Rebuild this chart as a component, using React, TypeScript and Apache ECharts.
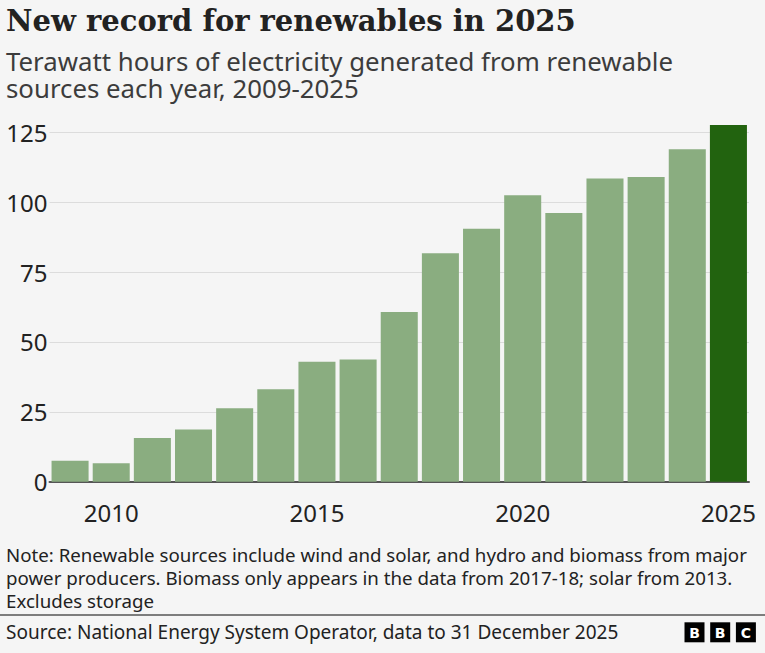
import React, { useEffect, useRef } from "react";
import * as echarts from "echarts";

const years = ["2009","2010","2011","2012","2013","2014","2015","2016","2017","2018","2019","2020","2021","2022","2023","2024","2025"];
const twh = [7.5, 6.6, 15.6, 18.7, 26.3, 33.1, 42.9, 43.7, 60.7, 81.7, 90.5, 102.5, 96.1, 108.5, 109.0, 118.9, 127.6];
const highlightYear = "2025";
const yTicks = { min: 0, max: 125, interval: 25 };

const titleText = "New record for renewables in 2025";
const subtitleLines = [
  "Terawatt hours of electricity generated from renewable",
  "sources each year, 2009-2025",
];
const noteLines = [
  "Note: Renewable sources include wind and solar, and hydro and biomass from major",
  "power producers. Biomass only appears in the data from 2017-18; solar from 2013.",
  "Excludes storage",
];
const sourceText = "Source: National Energy System Operator, data to 31 December 2025";
const logoLetters = ["B", "B", "C"];

const SANS = "'Noto Sans', 'Open Sans', sans-serif";
const LIGHT = "#8aad80";
const DARK = "#22630f";

export default function App() {
  const ref = useRef<HTMLDivElement>(null);
  useEffect(() => {
    document.body.style.margin = "0";
    document.body.style.background = "#f5f5f5";
    const chart = echarts.init(ref.current!, null, { renderer: "svg" });

    const graphic: any[] = [];
    graphic.push({
      type: "text", x: 6, y: 21,
      style: { text: titleText, fontFamily: "'DejaVu Serif', serif", fontWeight: "bold", fontSize: 29, fill: "#222", verticalAlign: "middle" },
    });
    graphic.push({
      type: "text", x: 6, y: 47.5,
      style: { text: subtitleLines.join("\n"), fontFamily: SANS, fontSize: 25.8, lineHeight: 26.8, fill: "#3c3c3c", verticalAlign: "top" },
    });
    graphic.push({
      type: "text", x: 6, y: 543,
      style: { text: noteLines.join("\n"), fontFamily: SANS, fontSize: 18.7, lineHeight: 22.8, fill: "#222", verticalAlign: "top" },
    });
    graphic.push({
      type: "line", shape: { x1: 0, y1: 615, x2: 765, y2: 615 },
      style: { stroke: "#555", lineWidth: 1.5 },
    });
    graphic.push({
      type: "text", x: 6, y: 632,
      style: { text: sourceText, fontFamily: SANS, fontSize: 19, fill: "#222", verticalAlign: "middle" },
    });
    logoLetters.forEach((l, i) => {
      const x0 = 684.5 + i * 25.7;
      graphic.push({ type: "rect", shape: { x: x0, y: 622.3, width: 20, height: 20 }, style: { fill: "#000" } });
      graphic.push({
        type: "text", x: x0 + 10, y: 632.5,
        style: { text: l, fontFamily: "'DejaVu Sans', sans-serif", fontWeight: "bold", fontSize: 14, fill: "#fff", align: "center", verticalAlign: "middle" },
      });
    });

    chart.setOption({
      animation: false,
      backgroundColor: "#f5f5f5",
      textStyle: { fontFamily: SANS },
      grid: { left: 49.5, right: 16, top: 132.3, bottom: 171.3 },
      xAxis: {
        type: "category",
        data: years,
        axisLine: { lineStyle: { color: "#555", width: 2 } },
        axisTick: {
          alignWithLabel: true, length: 9,
          interval: (idx: number, v: string) => Number(v) % 5 === 0,
          lineStyle: { color: "#555", width: 1.5 },
        },
        axisLabel: {
          interval: (idx: number, v: string) => Number(v) % 5 === 0,
          fontSize: 24, color: "#222", margin: 19, lineHeight: 24,
        },
      },
      yAxis: {
        type: "value",
        min: yTicks.min, max: yTicks.max, interval: yTicks.interval,
        axisLine: { show: false },
        axisTick: { show: false },
        axisLabel: { fontSize: 24, color: "#222", margin: 2 },
        splitLine: { lineStyle: { color: "#dcdcdc", width: 1 } },
      },
      series: [{
        type: "bar",
        clip: false,
        barCategoryGap: "10%",
        data: twh.map((v, i) => ({
          value: v,
          itemStyle: { color: years[i] === highlightYear ? DARK : LIGHT },
        })),
      }],
      graphic,
    });
    return () => chart.dispose();
  }, []);
  return <div ref={ref} style={{ width: 765, height: 653 }} />;
}
